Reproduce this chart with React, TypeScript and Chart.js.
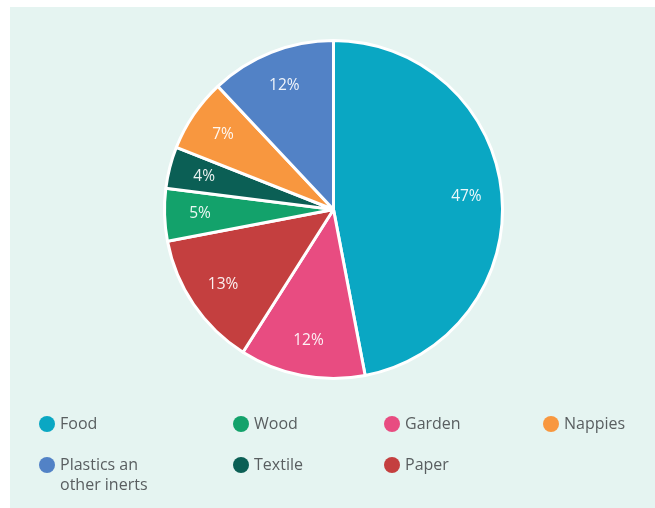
import React, { useEffect, useRef } from "react";
import { Chart, registerables } from "chart.js";

Chart.register(...registerables);

const categories = ["Food", "Garden", "Paper", "Wood", "Textile", "Nappies", "Plastics an\nother inerts"];
const shares = [47, 12, 13, 5, 4, 7, 12];
const colors = ["#0aa7c3", "#e84c81", "#c43f3f", "#13a26b", "#0b5f55", "#f8973f", "#5282c6"];
const legendRows = [
  ["Food", "Wood", "Garden", "Nappies"],
  ["Plastics an\nother inerts", "Textile", "Paper"],
];

const FONT = '"Open Sans", "Noto Sans", sans-serif';

const sliceLabels = {
  id: "sliceLabels",
  afterDatasetsDraw(chart: any) {
    const ctx = chart.ctx;
    const meta = chart.getDatasetMeta(0);
    const data = chart.data.datasets[0].data as number[];
    ctx.save();
    ctx.font = `15.5px ${FONT}`;
    ctx.fillStyle = "rgba(255,255,255,0.92)";
    ctx.textAlign = "center";
    ctx.textBaseline = "middle";
    meta.data.forEach((arc: any, i: number) => {
      const p = arc.getProps(["x", "y", "startAngle", "endAngle", "outerRadius"], true);
      const mid = (p.startAngle + p.endAngle) / 2;
      const r = p.outerRadius * 0.79;
      ctx.fillText(`${data[i]}%`, p.x + Math.cos(mid) * r, p.y + Math.sin(mid) * r);
    });
    ctx.restore();
  },
};

const customLegend = {
  id: "customLegend",
  afterDraw(chart: any) {
    const ctx = chart.ctx;
    const labels = chart.data.labels as string[];
    const bg = chart.data.datasets[0].backgroundColor as string[];
    const colX = [37, 231, 382, 541];
    const rowY = [417, 458];
    ctx.save();
    ctx.font = `16px ${FONT}`;
    ctx.textAlign = "left";
    ctx.textBaseline = "middle";
    legendRows.forEach((row, ri) => {
      row.forEach((name, ci) => {
        const idx = labels.indexOf(name);
        const x = colX[ci];
        const y = rowY[ri];
        ctx.fillStyle = bg[idx];
        ctx.beginPath();
        ctx.arc(x, y, 8, 0, Math.PI * 2);
        ctx.fill();
        ctx.fillStyle = "#595e60";
        name.split("\n").forEach((line, li) => {
          ctx.fillText(line, x + 13, y + li * 20);
        });
      });
    });
    ctx.restore();
  },
};

export default function App() {
  const ref = useRef<HTMLCanvasElement | null>(null);
  useEffect(() => {
    if (!ref.current) return;
    const chart = new Chart(ref.current, {
      type: "pie",
      data: {
        labels: categories,
        datasets: [
          {
            data: shares,
            backgroundColor: colors,
            borderColor: "#ffffff",
            borderWidth: 3,
          },
        ],
      },
      options: {
        responsive: false,
        animation: false,
        events: [],
        layout: { padding: { left: 153, top: 32, right: 151, bottom: 128 } },
        plugins: {
          legend: { display: false },
          tooltip: { enabled: false },
        },
      },
      plugins: [sliceLabels, customLegend],
    });
    return () => chart.destroy();
  }, []);
  return (
    <div style={{ position: "absolute", left: 0, top: 0, width: 655, height: 508, background: "#ffffff" }}>
      <div style={{ position: "absolute", left: 10, top: 7, width: 645, height: 501, background: "#e5f4f1" }}>
        <canvas ref={ref} width={645} height={501} style={{ display: "block" }} />
      </div>
    </div>
  );
}
